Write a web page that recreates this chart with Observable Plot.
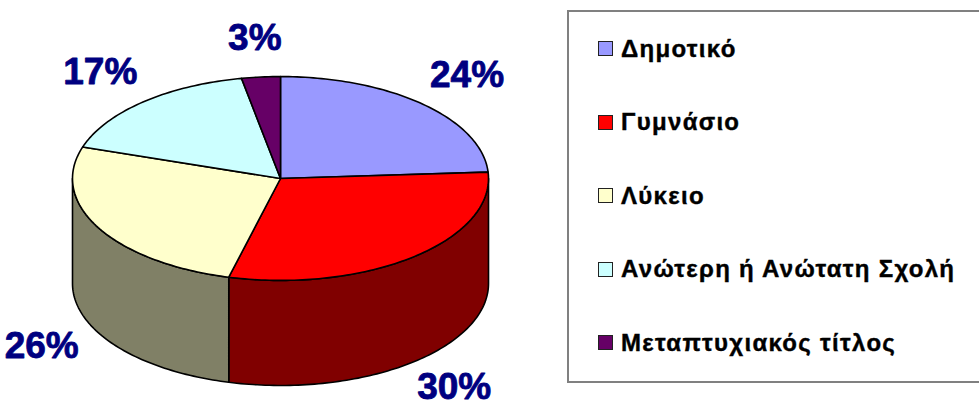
<!DOCTYPE html>
<html>
<head>
<meta charset="utf-8">
<script src="https://cdn.jsdelivr.net/npm/d3@7"></script>
<script src="https://cdn.jsdelivr.net/npm/@observablehq/plot@0.6"></script>
<style>
  html, body { margin: 0; padding: 0; background: #fff; }
  body { font-family: "Liberation Sans", Arial, sans-serif; width: 979px; height: 407px; position: relative; overflow: hidden; }
  #chart { position: absolute; left: 0; top: 0; }
  #legend { position: absolute; left: 567px; top: 10px; width: 420px; height: 369px;
            border: 2px solid #808080; border-right: none; box-sizing: content-box; }
  .row { height: 73.5px; display: flex; align-items: center; padding-left: 29px; }
  .sw { width: 13px; height: 13px; border: 1px solid #222; margin-right: 8px; flex: none; }
  .lab { font-family: "Liberation Sans", Arial, sans-serif; font-size: 24px; font-weight: 700; color: #000;
         white-space: nowrap; letter-spacing: 1.3px; -webkit-text-stroke: 0.4px #000; }
</style>
</head>
<body>
<div id="chart"></div>
<div id="legend"></div>
<script>
// ---- data ----
const categories = ["Δημοτικό", "Γυμνάσιο", "Λύκειο", "Ανώτερη ή Ανώτατη Σχολή", "Μεταπτυχιακός τίτλος"];
const shares = [24, 30, 26, 17, 3];
const labels = ["24%", "30%", "26%", "17%", "3%"];
const colors = ["#9999FF", "#FF0000", "#FFFFCC", "#CCFFFF", "#660066"];

// ---- geometry (unit ellipse, angle clockwise from 12 o'clock) ----
const RX = 1, RY = 0.49, DEPTH = 0.505;
const total = d3.sum(shares);
let acc = 0;
const slices = shares.map((v, i) => {
  const a0 = acc / total * 2 * Math.PI;
  acc += v;
  const a1 = acc / total * 2 * Math.PI;
  return {i, name: categories[i], label: labels[i], color: colors[i], a0, a1};
});
const pt = (a, dz = 0) => ({x: RX * Math.sin(a), y: RY * Math.cos(a) - dz});
const darker = c => { const r = d3.rgb(c); return d3.rgb(r.r / 2, r.g / 2, r.b / 2).formatHex(); };

// top faces
const topPts = [];
for (const s of slices) {
  topPts.push({key: "t" + s.i, fill: s.color, x: 0, y: 0});
  const n = Math.max(4, Math.ceil((s.a1 - s.a0) / 0.02));
  for (let k = 0; k <= n; k++) {
    const p = pt(s.a0 + (s.a1 - s.a0) * k / n);
    topPts.push({key: "t" + s.i, fill: s.color, ...p});
  }
  topPts.push({key: "t" + s.i, fill: s.color, x: 0, y: 0});
}
// side walls (visible front half: PI/2 .. 3PI/2)
const sidePts = [];
for (const s of slices) {
  const b0 = Math.max(s.a0, Math.PI / 2), b1 = Math.min(s.a1, 3 * Math.PI / 2);
  if (b1 <= b0) continue;
  const n = Math.max(4, Math.ceil((b1 - b0) / 0.02));
  const c = darker(s.color);
  for (let k = 0; k <= n; k++) sidePts.push({key: "s" + s.i, fill: c, ...pt(b0 + (b1 - b0) * k / n)});
  for (let k = n; k >= 0; k--) sidePts.push({key: "s" + s.i, fill: c, ...pt(b0 + (b1 - b0) * k / n, DEPTH)});
  sidePts.push({key: "s" + s.i, fill: c, ...pt(b0)});
}
// percent labels
const LX = 1.31, LY = 0.68;
const labelPts = slices.map(s => {
  const m = (s.a0 + s.a1) / 2;
  const front = Math.cos(m) < 0;
  return {text: s.label, x: LX * Math.sin(m), y: LY * Math.cos(m) - (front ? DEPTH * 0.95 : 0)};
});

const W = 565, H = 407, CX = 280, CY = 178, U = 208;
const chart = Plot.plot({
  width: W, height: H, margin: 0,
  x: {domain: [-CX / U, (W - CX) / U], axis: null},
  y: {domain: [(CY - H) / U, CY / U], axis: null},
  color: {type: "identity"},
  marks: [
    Plot.line(sidePts, {x: "x", y: "y", z: "key", fill: "fill", stroke: "#000", strokeWidth: 1.6, strokeLinejoin: "round", curve: "linear"}),
    Plot.line(topPts, {x: "x", y: "y", z: "key", fill: "fill", stroke: "#000", strokeWidth: 1.6, strokeLinejoin: "round", curve: "linear"}),
    Plot.text(labelPts, {x: "x", y: "y", text: "text", fontSize: 37, fontWeight: "bold", fill: "#000080",
      stroke: "#000080", strokeWidth: 0.8,
      fontFamily: "Liberation Sans, Arial, sans-serif", textAnchor: "middle", lineAnchor: "middle"})
  ]
});
document.getElementById("chart").appendChild(chart);

// legend
const lg = document.getElementById("legend");
categories.forEach((c, i) => {
  const row = document.createElement("div");
  row.className = "row";
  const sw = document.createElement("span");
  sw.className = "sw";
  sw.style.background = colors[i];
  const lab = document.createElement("span");
  lab.className = "lab";
  lab.textContent = c;
  row.appendChild(sw);
  row.appendChild(lab);
  lg.appendChild(row);
});
</script>
</body>
</html>
